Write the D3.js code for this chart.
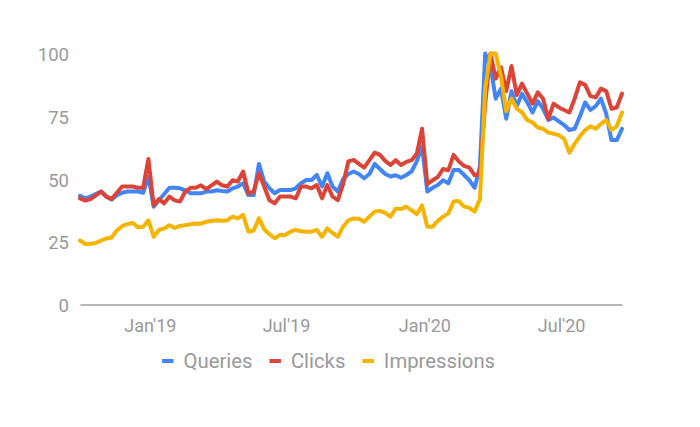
<!DOCTYPE html>
<html><head><meta charset="utf-8">
<script src="https://cdn.jsdelivr.net/npm/d3@7"></script>
<style>body{margin:0;background:#fff}svg{font-family:Roboto,"Noto Sans",sans-serif}</style>
</head><body>
<svg id="c" width="700" height="427"></svg>
<script>
// ---- data ----
const startDate = "2018-09-30";   // first weekly point
const endDate = "2020-09-20";     // last weekly point
const seriesNames = ["Queries", "Clicks", "Impressions"];
const seriesColors = ["#4285F4", "#DB4437", "#F4B400"];
const yTicks = [0, 25, 50, 75, 100];
const xTickDates = ["2019-01-01", "2019-07-01", "2020-01-01", "2020-07-01"];
const xTickLabels = ["Jan'19", "Jul'19", "Jan'20", "Jul'20"];

const queries = [43.3,42.3,43,44,45,43,41.8,43.5,44.5,45,45,45,44.5,51,39,41.5,44,46.5,46.5,46.3,45.5,44.3,44.3,44.3,45,45,
  45.5,45.2,45,46.3,47,48.3,43.6,43.6,56,49,46.3,44.3,45.6,45.6,45.6,46.3,48.3,49.6,49.6,51.6,47,52.3,47,45,50,
  52,53,52,50.3,52,56,54,52,51,51.5,50.5,51.6,53,57,63,45,46.5,47.6,49.5,48.3,53.6,53.6,51.6,49.5,46.5,55,
  100,95,82,86,74,85,79,84,80.5,76.5,81,78,73.5,74.5,73,71.5,69.5,70,75,80.5,77.5,79,82,76,65.5,65.5,70];
const clicks = [42.3,41.4,42,43.5,45,43,42,44.5,47,47,47,46.5,46.5,58,39.5,42,40.3,43,41.5,41,45,46.5,46.5,47.5,46,47.5,
  49,47.5,47,49.5,49,53,44.3,45,52.3,47,41.5,40.3,43,43,43,42.3,47,47,46.3,47.6,42.3,47.6,43,41.6,48,
  57,57.6,56,54.5,57.5,60.5,59.6,57.2,55.6,57.5,55.6,56.8,57.5,60,70,48,49.5,50.8,54,53.5,59.6,57,55.2,54.5,51.5,52,
  80,100,90,94.5,85,95,83.5,88,84,80,84.5,82,74,80,78.5,77.5,76.5,82,88.5,87.5,83,82.5,86,85,78,78.5,84];
const impressions = [25.5,24.1,24.2,24.5,25.5,26.3,26.7,29.5,31.2,32,32.5,30.8,31,33.5,27,29.7,30.3,31.6,30.5,31.3,31.6,32,32.3,32.2,33,33.3,
  33.6,33.4,33.6,35,34.3,35.7,29,29.5,34.3,30,28,26.4,27.7,27.7,29,29.7,29.2,29,29,29.7,27,30.3,28.5,27,31,
  33.5,34.3,34.2,33,35,37,37.3,36.5,35,38.2,38,39,37.6,36,39.5,31,31,33.3,35,36.3,41,41.2,39,38.5,37,42,
  86,100,100,91,77,82,78,76.5,73.5,72.5,70.5,70,68.5,68,67.5,66,60.5,64,67,69.5,71,70,72,73.5,69.5,71,76.5];

// ---- build ----
const parse = d3.utcParse("%Y-%m-%d");
const t0 = parse(startDate), t1 = parse(endDate);
const dates = d3.utcWeek.range(t0, d3.utcDay.offset(t1, 1));
const seriesValues = [queries, clicks, impressions];

const svg = d3.select("#c");
const x = d3.scaleUtc().domain([t0, t1]).range([80, 622]);
const y = d3.scaleLinear().domain([0, 100]).range([304.5, 53.5]);
const textColor = "#999999";

// y axis labels
const gy = svg.append("g").attr("transform", "translate(69,0)")
  .call(d3.axisLeft(y).tickValues(yTicks).tickSize(0).tickPadding(0));
gy.select(".domain").remove();
gy.selectAll("text").attr("fill", textColor).attr("font-size", 18.5)
  .attr("font-family", "Roboto").attr("dy", "0.38em");

// x axis
const gx = svg.append("g").attr("transform", "translate(0,304.5)")
  .call(d3.axisBottom(x).tickValues(xTickDates.map(parse))
    .tickFormat((d, i) => xTickLabels[i]).tickSize(0).tickSizeOuter(0).tickPadding(15));
gx.select(".domain").attr("stroke", "#9e9e9e").attr("stroke-width", 1.5);
gx.selectAll("text").attr("fill", textColor).attr("font-size", 18).attr("font-family", "Roboto");

// lines
const line = d3.line().x((d, i) => x(dates[i])).y(d => y(d));
seriesValues.forEach((vals, k) => {
  svg.append("path").datum(vals)
    .attr("fill", "none").attr("stroke", seriesColors[k])
    .attr("stroke-width", 4).attr("stroke-linejoin", "round").attr("stroke-linecap", "round")
    .attr("d", line);
});

// legend
let lx = 162;
const ly = 361;
seriesNames.forEach((name, k) => {
  const g = svg.append("g");
  g.append("line").attr("x1", lx).attr("x2", lx + 11.5).attr("y1", ly).attr("y2", ly)
    .attr("stroke", seriesColors[k]).attr("stroke-width", 4);
  const t = g.append("text").attr("x", lx + 21.5).attr("y", ly).attr("dy", "0.36em")
    .attr("fill", textColor).attr("font-size", 20.3).attr("font-family", "Roboto").text(name);
  lx += 21.5 + t.node().getComputedTextLength() + 17;
});
</script>
</body></html>
